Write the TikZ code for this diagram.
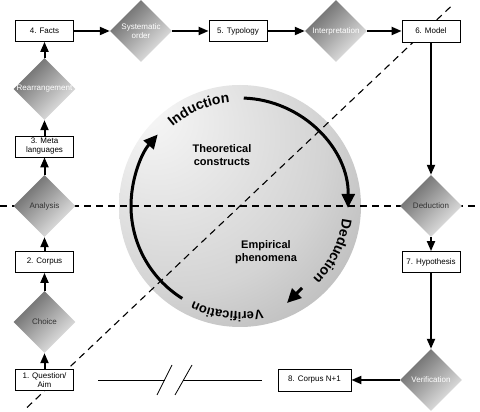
\documentclass[tikz,border=0pt]{standalone}
\usepackage{fontspec}
\setmainfont{Liberation Sans}
\usetikzlibrary{shapes.geometric,arrows.meta,decorations.text}
\pgfdeclareradialshading{sphere}{\pgfpoint{-20bp}{20bp}}{color(0bp)=(black!3); color(30bp)=(black!17); color(60bp)=(black!40); color(80bp)=(black!50)}
\begin{document}
\begin{tikzpicture}[x=1pt,y=1pt,
 box/.style={draw=black, line width=0.8pt, fill=white, minimum width=58pt, minimum height=21pt, inner sep=1pt, font=\fontsize{8}{9}\selectfont, align=center},
 dia/.style={diamond, minimum width=62pt, minimum height=62pt, inner sep=0pt, top color=black!60, bottom color=black!8, shading angle=45},
 dtext/.style={font=\fontsize{8}{9}\selectfont, text=white, align=center},
 dtextdark/.style={font=\fontsize{8}{9}\selectfont, text=black!80, align=center},
 arr/.style={line width=2pt, -{Triangle[length=10pt,width=8pt]}},
 dashline/.style={line width=1.1pt, dash pattern=on 7pt off 5pt},
 cyc/.style={line width=3pt, -{Triangle[length=14pt,width=13pt]}},
 ctext/.style={decorate, decoration={text along path, text align=center, text={|\fontsize{14}{16}\selectfont\bfseries|#1}}},
 ctextsmall/.style={decorate, decoration={text along path, text align=center, text={|\fontsize{13}{15}\selectfont\bfseries|#1}}},
 inner/.style={font=\fontsize{11}{13}\selectfont\bfseries, align=center}
]
\useasboundingbox (0,0) rectangle (480,412);
\coordinate (C) at (240,206);
% sphere
\shade[shading=sphere] (C) circle[radius=121pt];
% dashed lines
\coordinate (hl) at (0,206);
\coordinate (hr) at (480,206);
\coordinate (dl) at (27,4.5);
\coordinate (dr) at (453,407.5);
\draw[dashline] (hl) -- (hr);
\draw[dashline] (dl) -- (dr);
% cycle arcs
\draw[cyc] ([shift={(88:108pt)}]C) arc[start angle=88, end angle=-1, radius=108pt];
\draw[cyc] ([shift={(238:109pt)}]C) arc[start angle=238, end angle=139, radius=109pt];
\coordinate (sa) at (302,124);
\coordinate (sb) at (287,109);
\draw[cyc] (sa) -- (sb);
% circle texts
\path[ctext=Induction] ([shift={(150:104pt)}]C) arc[start angle=150, end angle=76, radius=104pt];
\path[ctext=Deduction] ([shift={(11:103pt)}]C) arc[start angle=11, end angle=-63, radius=103pt];
\path[ctextsmall=Verification] ([shift={(-60:106pt)}]C) arc[start angle=-60, end angle=-134, radius=106pt];
\node[inner] (theo) at (222,257) {Theoretical\\constructs};
\node[inner] (emp) at (266,160) {Empirical\\phenomena};
% left column
\node[box] (q1) at (44.5,32) {1. Question/\\Aim};
\node[dia, label={[dtextdark]center:Choice}] (choice) at (44.5,90) {};
\node[box] (c2) at (44.5,150) {2. Corpus};
\node[dia, label={[dtextdark]center:Analysis}] (ana) at (44.5,206) {};
\node[box] (m3) at (44.5,265.5) {3. Meta\\languages};
\node[dia, label={[dtext]center:Rearrangement}] (rea) at (44.5,323) {};
\node[box] (f4) at (44.5,381) {4. Facts};
% top row
\node[dia, label={[dtext]center:Systematic\\order}] (sys) at (141,381) {};
\node[box] (t5) at (238,381) {5. Typology};
\node[dia, label={[dtext]center:Interpretation}] (int) at (336,381) {};
\node[box, minimum height=22pt] (m6) at (431,381) {6. Model};
% right column
\node[dia, label={[dtextdark]center:Deduction}] (ded) at (431,206) {};
\node[box] (h7) at (431,150) {7. Hypothesis};
\node[dia, label={[dtext]center:Verification}] (ver) at (431,32) {};
\node[box, minimum width=73pt, minimum height=22pt] (c8) at (314.5,32) {8. Corpus N+1};
% arrows
\draw[arr] (q1) -- (choice);
\draw[arr] (choice) -- (c2);
\draw[arr] (c2) -- (ana);
\draw[arr] (ana) -- (m3);
\draw[arr] (m3) -- (rea);
\draw[arr] (rea) -- (f4);
\draw[arr] (f4) -- (sys);
\draw[arr] (sys) -- (t5);
\draw[arr] (t5) -- (int);
\draw[arr] (int) -- (m6);
\draw[arr] (m6) -- (ded);
\draw[arr] (ded) -- (h7);
\draw[arr] (h7) -- (ver);
\draw[arr] (ver) -- (c8);
% broken line
\coordinate (b1) at (98,32);
\coordinate (b2) at (164.5,32);
\coordinate (b3) at (183,32);
\coordinate (b4) at (262,32);
\draw[line width=0.8pt] (b1) -- (b2);
\draw[line width=0.8pt] (b3) -- (b4);
\draw[line width=0.8pt] (157,17) -- (172,47);
\draw[line width=0.8pt] (175,17) -- (192,47);
\end{tikzpicture}
\end{document}
